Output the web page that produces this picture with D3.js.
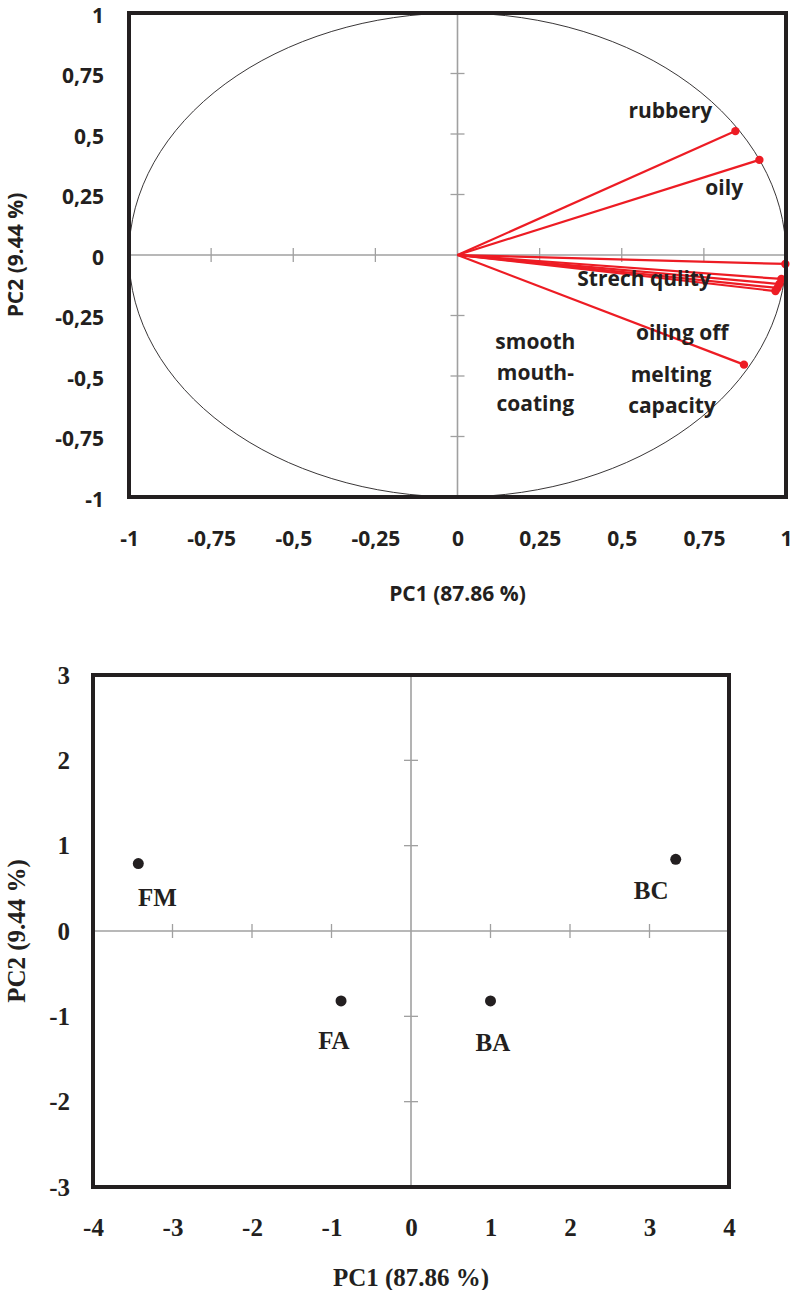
<!DOCTYPE html>
<html><head><meta charset="utf-8">
<script src="https://cdn.jsdelivr.net/npm/d3@7"></script>
<style>body{margin:0;background:#fff}</style>
</head><body>
<svg id="c" width="792" height="1290"></svg>
<script>
// ---- Data: loadings plot ----
const loadingNames = ["rubbery","oily","v3","v4","v5","v6","v7","v8"];
const loadingPC1 = [0.846, 0.919, 0.998, 0.986, 0.980, 0.974, 0.968, 0.872];
const loadingPC2 = [0.512, 0.393, -0.037, -0.099, -0.120, -0.136, -0.149, -0.453];
const loadTicks = [-1,-0.75,-0.5,-0.25,0,0.25,0.5,0.75,1];
// labels placed in data units
const labelText = ["rubbery","oily","Strech qulity","oiling off","melting","capacity","smooth","mouth-","coating"];
const labelX = [0.648, 0.812, 0.568, 0.684, 0.650, 0.653, 0.237, 0.237, 0.237];
const labelY = [0.600, 0.280, -0.095, -0.318, -0.490, -0.618, -0.355, -0.483, -0.610];

// ---- Data: scores plot ----
const samples = ["FM","BC","FA","BA"];
const scorePC1 = [-3.43, 3.33, -0.88, 1.00];
const scorePC2 = [0.79, 0.84, -0.82, -0.82];
const sampleLabX = [-3.19, 3.02, -0.97, 1.03];
const sampleLabY = [0.39, 0.47, -1.28, -1.31];
const scoreTicks = [-4,-3,-2,-1,0,1,2,3,4];
const scoreYTicks = [-3,-2,-1,0,1,2,3];

const svg = d3.select("#c");
const grey = "#a0a0a0", red = "#ed1c24", dark = "#231f20";
const fmtC = d => String(d).replace(".", ",");

// ===== Top chart =====
{
  const sans = "'Open Sans', Lato, sans-serif";
  const fs = 21;
  const x = d3.scaleLinear().domain([-1,1]).range([129,786]);
  const y = d3.scaleLinear().domain([-1,1]).range([497,13]);
  const g = svg.append("g");
  g.append("ellipse").attr("cx",x(0)).attr("cy",y(0))
    .attr("rx",x(1)-x(0)).attr("ry",y(0)-y(1))
    .attr("fill","none").attr("stroke","#231f20").attr("stroke-width",0.9);
  g.append("line").attr("x1",x(-1)).attr("x2",x(1)).attr("y1",y(0)).attr("y2",y(0)).attr("stroke",grey).attr("stroke-width",1.6);
  g.append("line").attr("x1",x(0)).attr("x2",x(0)).attr("y1",y(-1)).attr("y2",y(1)).attr("stroke",grey).attr("stroke-width",1.6);
  loadTicks.filter(t=>t!==0).forEach(t=>{
    g.append("line").attr("x1",x(t)).attr("x2",x(t)).attr("y1",y(0)-7).attr("y2",y(0)+7).attr("stroke",grey).attr("stroke-width",1.3);
    g.append("line").attr("x1",x(0)-7).attr("x2",x(0)+7).attr("y1",y(t)).attr("y2",y(t)).attr("stroke",grey).attr("stroke-width",1.3);
  });
  loadingPC1.forEach((v,i)=>{
    g.append("line").attr("x1",x(0)).attr("y1",y(0)).attr("x2",x(v)).attr("y2",y(loadingPC2[i]))
      .attr("stroke",red).attr("stroke-width",2.2);
  });
  loadingPC1.forEach((v,i)=>{
    g.append("circle").attr("cx",x(v)).attr("cy",y(loadingPC2[i])).attr("r",4.2).attr("fill",red);
  });
  g.append("rect").attr("x",x(-1)).attr("y",y(1)).attr("width",x(1)-x(-1)).attr("height",y(-1)-y(1))
    .attr("fill","none").attr("stroke",dark).attr("stroke-width",4);
  labelText.forEach((t,i)=>{
    g.append("text").attr("x",x(labelX[i])).attr("y",y(labelY[i])).attr("text-anchor","middle")
      .attr("dominant-baseline","central").attr("font-family",sans).attr("font-weight",700)
      .attr("font-size",fs).attr("fill",dark).text(t);
  });
  const ax = d3.axisBottom(x).tickValues(loadTicks).tickFormat(fmtC).tickSize(0).tickPadding(0);
  const ga = g.append("g").attr("transform","translate(0,548)").call(ax);
  ga.select(".domain").remove();
  ga.selectAll("text").attr("font-family",sans).attr("font-weight",700).attr("font-size",fs).attr("fill",dark).attr("dy","-0.1em");
  const ay = d3.axisLeft(y).tickValues(loadTicks).tickFormat(fmtC).tickSize(0).tickPadding(0);
  const gy = g.append("g").attr("transform","translate(104,0)").call(ay);
  gy.select(".domain").remove();
  gy.selectAll("text").attr("font-family",sans).attr("font-weight",700).attr("font-size",fs).attr("fill",dark).attr("dy","0.44em");
  g.append("text").attr("x",x(0)).attr("y",593).attr("text-anchor","middle").attr("dominant-baseline","central")
    .attr("font-family",sans).attr("font-weight",700).attr("font-size",fs).attr("fill",dark).text("PC1 (87.86 %)");
  g.append("text").attr("transform",`translate(15,${y(0)}) rotate(-90)`).attr("text-anchor","middle").attr("dominant-baseline","central")
    .attr("font-family",sans).attr("font-weight",700).attr("font-size",fs).attr("fill",dark).text("PC2 (9.44 %)");
}

// ===== Bottom chart =====
{
  const serif = "'Liberation Serif', 'Times New Roman', serif";
  const fs = 25;
  const fmtI = d => String(d);
  const x = d3.scaleLinear().domain([-4,4]).range([93,729]);
  const y = d3.scaleLinear().domain([-3,3]).range([1187,675]);
  const g = svg.append("g");
  g.append("line").attr("x1",x(-4)).attr("x2",x(4)).attr("y1",y(0)).attr("y2",y(0)).attr("stroke",grey).attr("stroke-width",1.6);
  g.append("line").attr("x1",x(0)).attr("x2",x(0)).attr("y1",y(-3)).attr("y2",y(3)).attr("stroke",grey).attr("stroke-width",1.6);
  scoreTicks.filter(t=>t!==0).forEach(t=>{
    g.append("line").attr("x1",x(t)).attr("x2",x(t)).attr("y1",y(0)-7).attr("y2",y(0)+7).attr("stroke",grey).attr("stroke-width",1.3);
  });
  scoreYTicks.filter(t=>t!==0).forEach(t=>{
    g.append("line").attr("x1",x(0)-7).attr("x2",x(0)+7).attr("y1",y(t)).attr("y2",y(t)).attr("stroke",grey).attr("stroke-width",1.3);
  });
  g.append("rect").attr("x",x(-4)).attr("y",y(3)).attr("width",x(4)-x(-4)).attr("height",y(-3)-y(3))
    .attr("fill","none").attr("stroke",dark).attr("stroke-width",4);
  scorePC1.forEach((v,i)=>{
    g.append("circle").attr("cx",x(v)).attr("cy",y(scorePC2[i])).attr("r",5.5).attr("fill",dark);
    g.append("text").attr("x",x(sampleLabX[i])).attr("y",y(sampleLabY[i])).attr("text-anchor","middle")
      .attr("dominant-baseline","central").attr("font-family",serif).attr("font-weight",700)
      .attr("font-size",fs).attr("fill",dark).text(samples[i]);
  });
  const ax = d3.axisBottom(x).tickValues(scoreTicks).tickFormat(fmtI).tickSize(0).tickPadding(0);
  const ga = g.append("g").attr("transform","translate(0,1238)").call(ax);
  ga.select(".domain").remove();
  ga.selectAll("text").attr("font-family",serif).attr("font-weight",700).attr("font-size",fs).attr("fill",dark).attr("dy","-0.1em");
  const ay = d3.axisLeft(y).tickValues(scoreYTicks).tickFormat(fmtI).tickSize(0).tickPadding(0);
  const gy = g.append("g").attr("transform","translate(70,0)").call(ay);
  gy.select(".domain").remove();
  gy.selectAll("text").attr("font-family",serif).attr("font-weight",700).attr("font-size",fs).attr("fill",dark);
  g.append("text").attr("x",x(0)).attr("y",1277).attr("text-anchor","middle").attr("dominant-baseline","central")
    .attr("font-family",serif).attr("font-weight",700).attr("font-size",fs).attr("fill",dark).text("PC1 (87.86 %)");
  g.append("text").attr("transform",`translate(16,${y(0)}) rotate(-90)`).attr("text-anchor","middle").attr("dominant-baseline","central")
    .attr("font-family",serif).attr("font-weight",700).attr("font-size",fs).attr("fill",dark).text("PC2 (9.44 %)");
}
</script>
</body></html>
